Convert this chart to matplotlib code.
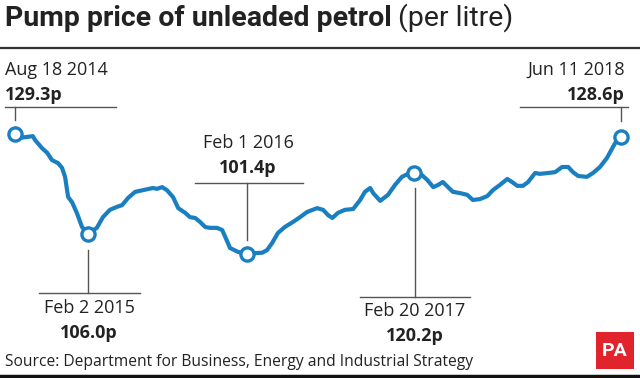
import matplotlib
matplotlib.use("Agg")
import matplotlib.pyplot as plt
from matplotlib.patches import Rectangle

# Weekly pump price (days since Aug 18 2014, pence per litre)
days = [0, 12, 41, 46, 62, 74, 85, 99, 108, 115, 122, 131, 142, 154, 168,
        188, 202, 218, 234, 246, 260, 276, 294, 317, 326, 338, 349, 363, 375,
        391, 402, 414, 425, 437, 448, 464, 476, 483, 494, 512, 532, 551, 568,
        579, 591, 604, 620, 639, 655, 671, 694, 708, 719, 729, 742, 758, 777,
        793, 804, 816, 823, 839, 857, 873, 889, 903, 917, 935, 947, 961, 972,
        983, 995, 1006, 1023, 1039, 1052, 1068, 1085, 1098, 1114, 1131, 1142,
        1154, 1167, 1179, 1195, 1206, 1225, 1241, 1257, 1271, 1282, 1294, 1314,
        1328, 1344, 1360, 1374, 1383, 1393]
price = [129.3, 128.4, 128.8, 127.9, 126.0, 124.9, 123.2, 122.5, 121.4, 119.3,
         114.6, 113.4, 110.9, 107.6, 106.0, 107.4, 109.9, 111.6, 112.3, 112.7,
         114.4, 115.8, 116.2, 116.7, 116.5, 116.9, 116.2, 114.6, 112.0, 110.9,
         109.9, 109.7, 108.8, 107.6, 107.4, 107.4, 106.9, 105.3, 102.7, 101.8,
         101.4, 101.5, 101.6, 102.2, 103.9, 106.2, 107.6, 108.8, 109.9, 111.1,
         112.0, 111.6, 110.4, 109.7, 110.9, 111.6, 111.8, 113.9, 115.8, 116.7,
         115.5, 113.7, 115.1, 117.4, 119.3, 120.0, 120.2, 119.7, 118.6, 116.9,
         117.4, 118.1, 116.9, 115.8, 115.5, 115.1, 113.9, 114.1, 114.8, 116.2,
         117.4, 118.8, 118.1, 117.2, 117.2, 118.1, 120.2, 120.0, 120.2, 120.4,
         121.6, 121.6, 120.4, 119.5, 119.3, 120.2, 121.6, 123.7, 126.3, 127.9,
         128.6]

# Highlighted points
hl_days = [0, 168, 532, 917, 1393]
hl_price = [129.3, 106.0, 101.4, 120.2, 128.6]
hl_dates = ["Aug 18 2014", "Feb 2 2015", "Feb 1 2016", "Feb 20 2017", "Jun 11 2018"]

W, H = 640, 378
FONT = "Open Sans"
TITLE_FONT = "Roboto"
BLUE = "#1a7fc1"
GREY = "#555555"
TXT = "#222222"

fig = plt.figure(figsize=(W / 100, H / 100), dpi=100)
ax = fig.add_axes([0, 0, 1, 1])
ax.set_xlim(-34.5, 1436)
ax.set_ylim(72.37, 160.56)
ax.axis("off")

ax.plot(days, price, color=BLUE, lw=3.0, solid_joinstyle="round",
        solid_capstyle="round", zorder=3)
ax.scatter(hl_days, hl_price, s=90, facecolor="white", edgecolor=BLUE,
           linewidth=2.4, zorder=4)


def px(x, y):
    return x / W, 1 - y / H


def label(x, y, date, value, ha):
    fig.text(*px(x, y), date, ha=ha, va="center", fontsize=13,
             family=FONT, color=TXT)
    fig.text(*px(x, y + 25), value, ha=ha, va="center", fontsize=13,
             family=FONT, weight="bold", color=TXT)


def hline(x0, x1, y):
    fig.add_artist(plt.Line2D([x0 / W, x1 / W], [1 - y / H, 1 - y / H],
                              color=GREY, lw=1))


def vline(x, y0, y1):
    fig.add_artist(plt.Line2D([x / W, x / W], [1 - y0 / H, 1 - y1 / H],
                              color=GREY, lw=1))


# Title
t = fig.text(*px(5, 18), "Pump price of unleaded petrol", ha="left", va="center",
             fontsize=20.5, family=TITLE_FONT, weight="bold", color=TXT)
fig.canvas.draw()
bb = t.get_window_extent()
fig.text((bb.x1 + 6) / W, 1 - 18 / H, "(per litre)", ha="left", va="center",
         fontsize=20.5, family=TITLE_FONT, color=TXT)
fig.add_artist(plt.Line2D([0, 1], [1 - 48 / H, 1 - 48 / H], color="#333333", lw=1.6))

# Annotations
label(5, 70, hl_dates[0], "129.3p", "left")
hline(5, 116, 107)
vline(15, 107, 120)

label(625, 70, hl_dates[4], "128.6p", "right")
hline(520, 628, 107)
vline(621, 107, 121)

label(248, 143, hl_dates[2], "101.4p", "center")
hline(195, 303, 183)
vline(247, 183, 240)

label(89, 308, hl_dates[1], "106.0p", "center")
hline(39, 140, 293)
vline(88, 250, 293)

label(415, 311, hl_dates[3], "120.2p", "center")
hline(360, 470, 297)
vline(415, 188, 297)

# Footer
fig.text(*px(5, 362), "Source: Department for Business, Energy and Industrial Strategy",
         ha="left", va="center", fontsize=11.25, family=FONT, color=TXT)
fig.add_artist(plt.Line2D([0, 1], [1 - 376 / H, 1 - 376 / H], color="#111111", lw=2.5))
fig.add_artist(Rectangle(px(596, 369), 38 / W, 37 / H, facecolor="#e1232b",
                         edgecolor="none"))
fig.text(*px(615, 351), "PA", ha="center", va="center", fontsize=14,
         family=TITLE_FONT, weight="bold", color="white")

fig.savefig("out.png", dpi=100)
